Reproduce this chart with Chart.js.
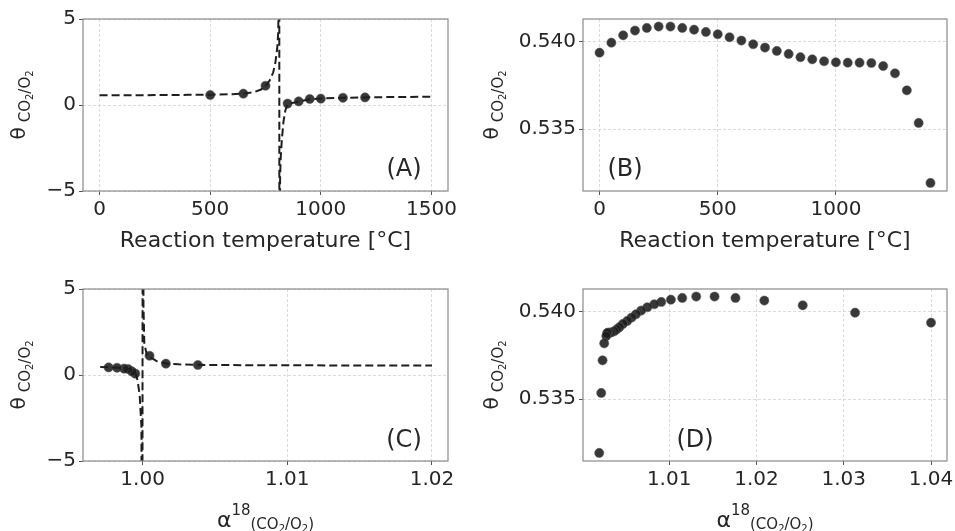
<!DOCTYPE html>
<html>
<head>
<meta charset="utf-8">
<script src="https://cdn.jsdelivr.net/npm/chart.js@4.4.0/dist/chart.umd.min.js"></script>
<style>
  html, body { margin: 0; padding: 0; background: #fff; width: 955px; height: 531px; overflow: hidden; }
  .panel { position: absolute; }
</style>
</head>
<body>
<div class="panel" style="left:0px;top:0px"><canvas id="A" width="480" height="265" style="width:480px;height:265px"></canvas></div>
<div class="panel" style="left:470px;top:0px"><canvas id="B" width="500" height="265" style="width:500px;height:265px"></canvas></div>
<div class="panel" style="left:0px;top:265px"><canvas id="C" width="480" height="266" style="width:480px;height:266px"></canvas></div>
<div class="panel" style="left:470px;top:265px"><canvas id="D" width="500" height="266" style="width:500px;height:266px"></canvas></div>
<script>
// measured points (A) and the same samples against alpha (C)
var tempA  = [500, 650, 750, 850, 900, 950, 1000, 1100, 1200];
var thetaA = [0.58, 0.66, 1.12, 0.08, 0.21, 0.35, 0.37, 0.42, 0.44];
var alphaC = [1.00382, 1.00161, 1.00048, 0.99949, 0.99926, 0.99900, 0.99872, 0.99823, 0.99765];

// dashed model curves
var curveA = [[0, 0.56], [200, 0.57], [400, 0.59], [500, 0.60], [600, 0.63], [650, 0.66], [700, 0.76],
  [730, 0.90], [750, 1.10], [770, 1.45], [785, 1.9], [795, 2.5], [803, 3.3], [808, 4.3], [812, 30],
  [813, -30], [816, -4.2], [819, -3.0], [824, -2.0], [831, -1.0], [840, -0.3], [850, 0.05], [900, 0.21],
  [950, 0.33], [1000, 0.38], [1100, 0.42], [1200, 0.44], [1300, 0.46], [1400, 0.47], [1500, 0.48]];
var curveC = [[0.99707, 0.46], [0.9980, 0.44], [0.9988, 0.41], [0.9992, 0.32], [0.9995, 0.12],
  [0.99965, -0.3], [0.9998, -1.2], [0.99992, -3.0], [0.99998, -30], [1.00001, 30], [1.00006, 4.0],
  [1.00012, 1.8], [1.0003, 1.15], [1.0005, 1.05], [1.001, 0.80], [1.0016, 0.67], [1.0025, 0.62],
  [1.0038, 0.59], [1.007, 0.57], [1.012, 0.56], [1.020, 0.55]];

// B and D: theta vs temperature and vs alpha
var tempB  = [0, 50, 100, 150, 200, 250, 300, 350, 400, 450, 500, 550, 600, 650, 700, 750, 800, 850,
  900, 950, 1000, 1050, 1100, 1150, 1200, 1250, 1300, 1350, 1400];
var thetaB = [0.53937, 0.53994, 0.54036, 0.54063, 0.54078, 0.54086, 0.54086, 0.54078, 0.54068, 0.54055,
  0.54042, 0.54025, 0.54006, 0.53985, 0.53966, 0.53947, 0.53930, 0.53911, 0.53899, 0.53888, 0.53882,
  0.53880, 0.53880, 0.53878, 0.53861, 0.53819, 0.53722, 0.53536, 0.53194];
var alphaD = [1.0400, 1.0313, 1.0253, 1.0209, 1.0176, 1.0152, 1.0131, 1.0115, 1.0102, 1.0091, 1.0083,
  1.0075, 1.0068, 1.0062, 1.0057, 1.0052, 1.0047, 1.0043, 1.0040, 1.0037, 1.0034, 1.0032, 1.0030,
  1.0029, 1.0028, 1.00256, 1.00237, 1.00222, 1.00199];

// tick labels
var ticksTemp15 = [0, 500, 1000, 1500];
var ticksTemp10 = [0, 500, 1000];
var ticksTheta  = [-5, 0, 5];
var ticksThetaB = [0.535, 0.540];
var ticksAlphaC = [1.00, 1.01, 1.02];
var ticksAlphaD = [1.01, 1.02, 1.03, 1.04];

var TXT = '#262626';
var FONT = '"DejaVu Sans", sans-serif';

function pts(xs, ys) { return xs.map(function (x, i) { return { x: x, y: ys[i] }; }); }
function pairs(arr) { return arr.map(function (p) { return { x: p[0], y: p[1] }; }); }
function minus(v) { return v < 0 ? '\u2212' + Math.abs(v) : String(v); }

function runs(ctx, parts) {
  var w = 0;
  parts.forEach(function (p) { ctx.font = p[1] + 'px ' + FONT; p.w = ctx.measureText(p[0]).width + (p[3] || 0); w += p.w; });
  return w;
}
function drawRuns(ctx, parts, x0, y0) {
  var x = x0;
  parts.forEach(function (p) { ctx.font = p[1] + 'px ' + FONT; ctx.fillText(p[0], x, y0 + p[2]); x += p.w; });
}

var yLabelParts = function () { return [['\u03b8', 20, 0, 5], ['CO', 15, 5], ['2', 10, 8], ['/O', 15, 5], ['2', 10, 8]]; };
var alphaParts = function () { return [['\u03b1', 22, 0], ['18', 15, -12], ['(CO', 15, 2], ['2', 10, 5], ['/O', 15, 2], ['2', 10, 5], [')', 15, 2]]; };

var deco = {
  id: 'deco',
  afterDraw: function (chart, args, o) {
    var ctx = chart.ctx, a = chart.chartArea;
    ctx.save();
    ctx.strokeStyle = '#8a8a8a';
    ctx.lineWidth = 1.2;
    ctx.strokeRect(a.left, a.top, a.right - a.left, a.bottom - a.top);
    ctx.fillStyle = TXT;
    ctx.textBaseline = 'alphabetic';
    // panel letter
    ctx.textAlign = 'center';
    ctx.font = '24px ' + FONT;
    ctx.fillText(o.letter, o.letterX, o.letterY);
    ctx.textAlign = 'left';
    // x label
    var cx = (a.left + a.right) / 2;
    if (o.xAlpha) {
      var xp = alphaParts();
      var xw = runs(ctx, xp);
      drawRuns(ctx, xp, cx - xw / 2, o.xBase);
    } else {
      ctx.textAlign = 'center';
      ctx.font = '22px ' + FONT;
      ctx.fillText('Reaction temperature [\u00b0C]', cx, o.xBase);
      ctx.textAlign = 'left';
    }
    // y label, rotated
    var yp = yLabelParts();
    var yw = runs(ctx, yp);
    ctx.translate(o.yBase, (a.top + a.bottom) / 2);
    ctx.rotate(-Math.PI / 2);
    drawRuns(ctx, yp, -yw / 2, 0);
    ctx.restore();
  }
};

function axis(min, max, ticks, fmt, fitFn) {
  return {
    type: 'linear', min: min, max: max,
    afterBuildTicks: function (s) { s.ticks = ticks.map(function (v) { return { value: v }; }); },
    afterFit: fitFn,
    ticks: { color: TXT, font: { family: FONT, size: 20 }, padding: 3, callback: fmt, maxRotation: 0, autoSkip: false },
    grid: { color: '#d2d2d2', lineWidth: 0.8, tickLength: 4, tickColor: '#555', tickWidth: 1, tickBorderDash: [1, 0] },
    border: { display: false, dash: [3, 2] }
  };
}

function settings(p) {
  var datasets = [{
    data: p.points, order: 2,
    backgroundColor: 'rgba(28,28,28,0.88)', borderColor: 'rgba(90,90,90,0.9)', borderWidth: 0.6,
    pointRadius: 4.6, pointHoverRadius: 4.6
  }];
  if (p.curve) {
    datasets.push({
      data: p.curve, order: 1, showLine: true, pointRadius: 0,
      borderColor: '#1e1e1e', borderWidth: 2, borderDash: [8, 4], tension: 0
    });
  }
  return {
    type: 'scatter',
    data: { datasets: datasets },
    options: {
      responsive: false, animation: false, events: [],
      layout: { padding: { left: 0, top: p.top, right: p.right, bottom: 0 } },
      plugins: {
        legend: { display: false }, tooltip: { enabled: false },
        deco: p.deco
      },
      scales: {
        x: axis(p.xr[0], p.xr[1], p.xt, p.xf, function (s) { s.height = p.xh; }),
        y: axis(p.yr[0], p.yr[1], p.yt, p.yf, function (s) { s.width = p.yw; })
      }
    },
    plugins: [deco]
  };
}

var fix2 = function (v) { return v.toFixed(2); };
var fix3 = function (v) { return v.toFixed(3); };

new Chart(document.getElementById('A'), settings({
  points: pts(tempA, thetaA), curve: pairs(curveA),
  xr: [-75, 1575], xt: ticksTemp15, xf: minus, yr: [-5, 5], yt: ticksTheta, yf: minus,
  top: 19, right: 32, xh: 74, yw: 83,
  deco: { letter: '(A)', letterX: 404, letterY: 176, xBase: 247, yBase: 25 }
}));
new Chart(document.getElementById('B'), settings({
  points: pts(tempB, thetaB),
  xr: [-70, 1470], xt: ticksTemp10, xf: minus, yr: [0.53148, 0.54129], yt: ticksThetaB, yf: fix3,
  top: 19, right: 23, xh: 74, yw: 113,
  deco: { letter: '(B)', letterX: 155, letterY: 176, xBase: 247, yBase: 28 }
}));
new Chart(document.getElementById('C'), settings({
  points: pts(alphaC, thetaA), curve: pairs(curveC),
  xr: [0.99588, 1.02111], xt: ticksAlphaC, xf: fix2, yr: [-5, 5], yt: ticksTheta, yf: minus,
  top: 24, right: 32, xh: 70, yw: 83,
  deco: { letter: '(C)', letterX: 404, letterY: 182, xBase: 262, yBase: 25, xAlpha: true }
}));
new Chart(document.getElementById('D'), settings({
  points: pts(alphaD, thetaB),
  xr: [1.00013, 1.04183], xt: ticksAlphaD, xf: fix2, yr: [0.53148, 0.54129], yt: ticksThetaB, yf: fix3,
  top: 24, right: 23, xh: 70, yw: 113,
  deco: { letter: '(D)', letterX: 225, letterY: 182, xBase: 262, yBase: 28, xAlpha: true }
}));
</script>
</body>
</html>
